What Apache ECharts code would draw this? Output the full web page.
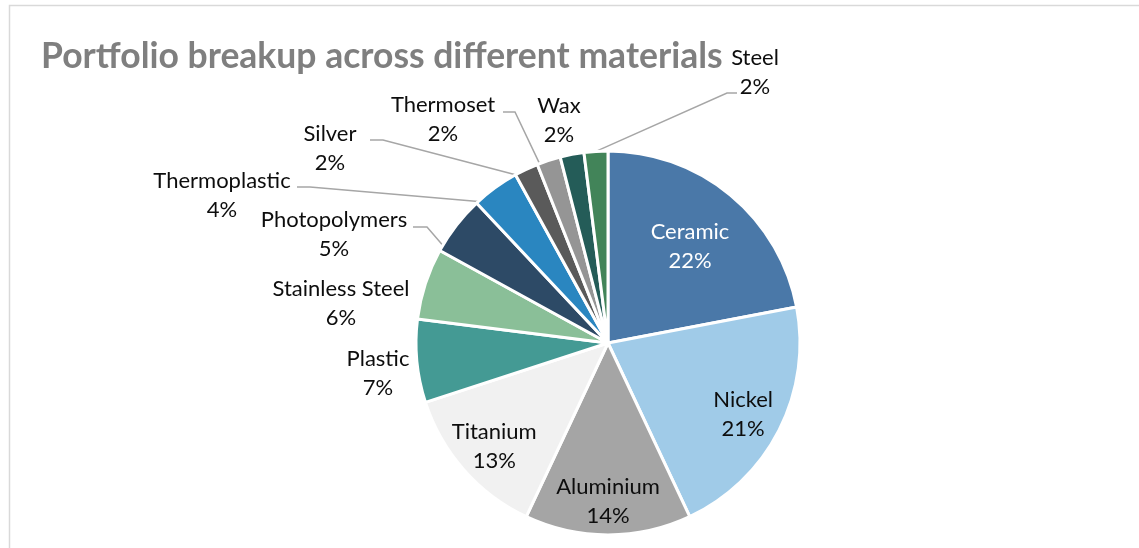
<!DOCTYPE html>
<html>
<head>
<meta charset="utf-8">
<script src="https://cdn.jsdelivr.net/npm/echarts@6/dist/echarts.min.js"></script>
<style>
  html, body { margin: 0; padding: 0; background: #ffffff; }
  #chart { width: 1139px; height: 548px; }
</style>
</head>
<body>
<div id="chart"></div>
<script>
// Share of the portfolio by material, in percent (clockwise from 12 o'clock)
const materials = ['Ceramic', 'Nickel', 'Aluminium', 'Titanium', 'Plastic', 'Stainless Steel',
                   'Photopolymers', 'Thermoplastic', 'Silver', 'Thermoset', 'Wax', 'Steel'];
const shares = [22, 21, 14, 13, 7, 6, 5, 4, 2, 2, 2, 2];
const sliceColors = ['#4a78a8', '#a0cbe8', '#a5a5a5', '#f1f1f1', '#449a94', '#8abf98',
                     '#2d4a66', '#2a86c0', '#5a5a5a', '#959595', '#245c58', '#428459'];

const chartTitle = 'Portfolio breakup across different materials';

// Pie geometry (pixels)
const PIE_CX = 608, PIE_CY = 343, PIE_R = 192;

// Label placement: inside labels sit at a fraction of the radius on the slice bisector;
// outside labels are centred on a point, with an optional elbow leader line.
const labelSpots = {
  'Ceramic':         { inside: 0.67, color: '#ffffff' },
  'Nickel':          { inside: 0.79 },
  'Aluminium':       { inside: 0.81 },
  'Titanium':        { inside: 0.79 },
  'Plastic':         { at: [378, 373] },
  'Stainless Steel': { at: [341, 303] },
  'Photopolymers':   { at: [334, 234], knee: [427, 227], end: [413, 227], t: 0.1 },
  'Thermoplastic':   { at: [222, 195], knee: [310, 187], end: [297, 187], t: 0.05 },
  'Silver':          { at: [330, 148], knee: [383, 140], end: [370, 140], t: 0.0 },
  'Thermoset':       { at: [443, 119], knee: [515, 112], end: [503, 112], t: 0.1 },
  'Wax':             { at: [559, 120] },
  'Steel':           { at: [755, 72],  knee: [727, 93],  end: [737, 93],  t: 0.5 }
};

const total = shares.reduce((a, b) => a + b, 0);
const startShare = shares.map((_, i) => shares.slice(0, i).reduce((a, b) => a + b, 0));

// Point on the outer arc of slice i, t in [0,1] across the slice
function arcPoint(i, t) {
  const deg = (startShare[i] + shares[i] * t) / total * 360;
  const a = deg * Math.PI / 180;
  return [PIE_CX + PIE_R * Math.sin(a), PIE_CY - PIE_R * Math.cos(a)];
}

const LABEL_FONT = 'Lato, "Open Sans", sans-serif';

const pieData = materials.map((name, i) => {
  const spot = labelSpots[name];
  return {
    name: name,
    value: shares[i],
    itemStyle: { color: sliceColors[i] },
    label: {
      position: spot.inside ? 'inside' : 'outside',
      color: spot.color || '#0d0d0d'
    },
    labelLine: { show: !!spot.knee }
  };
});

const chart = echarts.init(document.getElementById('chart'), null, { renderer: 'canvas' });

chart.setOption({
  backgroundColor: '#ffffff',
  animation: false,
  title: {
    text: chartTitle,
    left: 36,
    top: 34,
    textStyle: {
      fontFamily: 'Lato, "Open Sans", sans-serif',
      fontWeight: 'bold',
      fontSize: 35.5,
      color: '#7f7f7f'
    }
  },
  graphic: [{
    type: 'rect',
    shape: { x: 9.5, y: 5.5, width: 1200, height: 600 },
    style: { fill: 'none', stroke: '#d9d9d9', lineWidth: 1.5 },
    silent: true
  }],
  series: [{
    type: 'pie',
    center: [PIE_CX, PIE_CY],
    radius: [0, PIE_R],
    startAngle: 90,
    clockwise: true,
    avoidLabelOverlap: false,
    data: pieData,
    itemStyle: { borderColor: '#ffffff', borderWidth: 3 },
    emphasis: { disabled: true },
    label: {
      show: true,
      fontFamily: LABEL_FONT,
      fontSize: 22,
      lineHeight: 29,
      align: 'center',
      formatter: (p) => p.name + '\n' + p.value + '%'
    },
    labelLine: {
      show: true,
      lineStyle: { color: '#a6a6a6', width: 1.5 }
    },
    labelLayout: (params) => {
      const i = params.dataIndex;
      const spot = labelSpots[materials[i]];
      if (spot.inside) {
        const p = arcPoint(i, 0.5);
        const f = spot.inside;
        return {
          x: PIE_CX + (p[0] - PIE_CX) * f,
          y: PIE_CY + (p[1] - PIE_CY) * f + 3,
          align: 'center',
          verticalAlign: 'middle'
        };
      }
      const out = {
        x: spot.at[0],
        y: spot.at[1],
        align: 'center',
        verticalAlign: 'middle'
      };
      if (spot.knee) {
        out.labelLinePoints = [arcPoint(i, spot.t), spot.knee, spot.end];
      }
      return out;
    }
  }]
});
</script>
</body>
</html>
